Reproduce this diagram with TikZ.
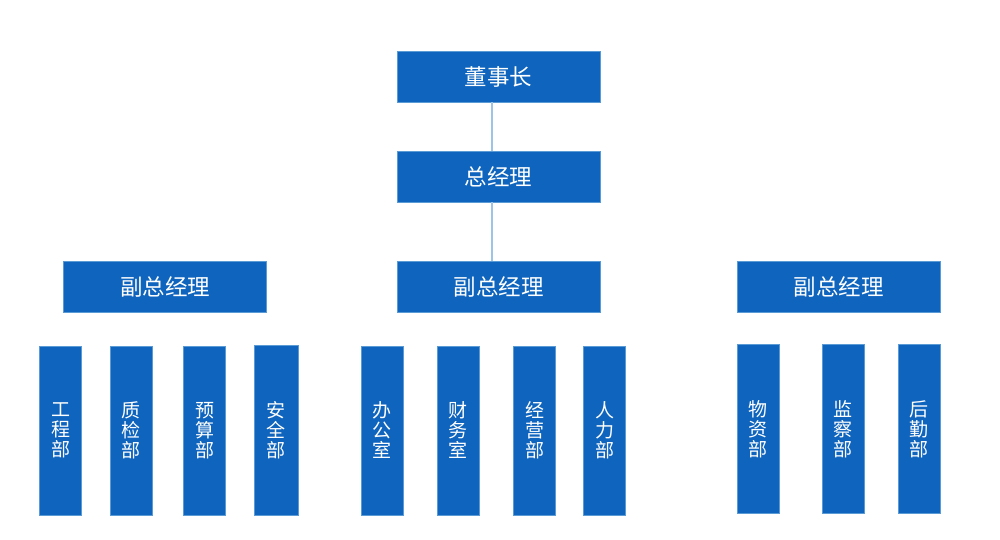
\documentclass[tikz,border=0pt]{standalone}
\usepackage{fontspec}
\setmainfont{Noto Sans CJK SC}
\definecolor{boxblue}{HTML}{0F64BE}
\definecolor{boxedge}{HTML}{5B9BD5}
\definecolor{linkblue}{HTML}{9DC3E6}
\begin{document}
\begin{tikzpicture}[x=1pt,y=-1pt,
  hbox/.style={rectangle,fill=boxblue,draw=boxedge,line width=0.6pt,text=white,
    minimum width=203pt,minimum height=51pt,inner sep=0pt,font=\fontsize{22.5}{25}\selectfont},
  vbox/.style={rectangle,fill=boxblue,draw=boxedge,line width=0.6pt,text=white,
    minimum width=42pt,minimum height=169pt,inner sep=0pt,align=center,
    font=\fontsize{19}{20}\selectfont},
  link/.style={draw=linkblue,line width=1.1pt}]
\useasboundingbox (0,0) rectangle (1000,539);
\fill[white] (0,0) rectangle (1000,539);
% top level
\node[hbox] (dsz) at (498.5,76.5) {董事长};
\node[hbox] (zjl) at (498.5,176.5) {总经理};
\node[hbox] (fzl) at (165,286.5) {副总经理};
\node[hbox] (fzm) at (498.5,286.5) {副总经理};
\node[hbox] (fzr) at (838.5,286.5) {副总经理};
\draw[link] ([xshift=-6.5pt]dsz.south) -- ([xshift=-6.5pt]zjl.north);
\draw[link] ([xshift=-6.5pt]zjl.south) -- ([xshift=-6.5pt]fzm.north);
% departments
\node[vbox] (d1) at (60.5,430.5) {工\\程\\部};
\node[vbox] (d2) at (131,430.5) {质\\检\\部};
\node[vbox] (d3) at (204.5,430.5) {预\\算\\部};
\node[vbox,minimum width=44pt,minimum height=170pt] (d4) at (276,430) {安\\全\\部};
\node[vbox] (d5) at (382,430.5) {办\\公\\室};
\node[vbox] (d6) at (458,430.5) {财\\务\\室};
\node[vbox] (d7) at (534.5,430.5) {经\\营\\部};
\node[vbox] (d8) at (604.5,430.5) {人\\力\\部};
\node[vbox] (d9) at (758,429) {物\\资\\部};
\node[vbox] (d10) at (843,429) {监\\察\\部};
\node[vbox] (d11) at (919,429) {后\\勤\\部};
\end{tikzpicture}
\end{document}
